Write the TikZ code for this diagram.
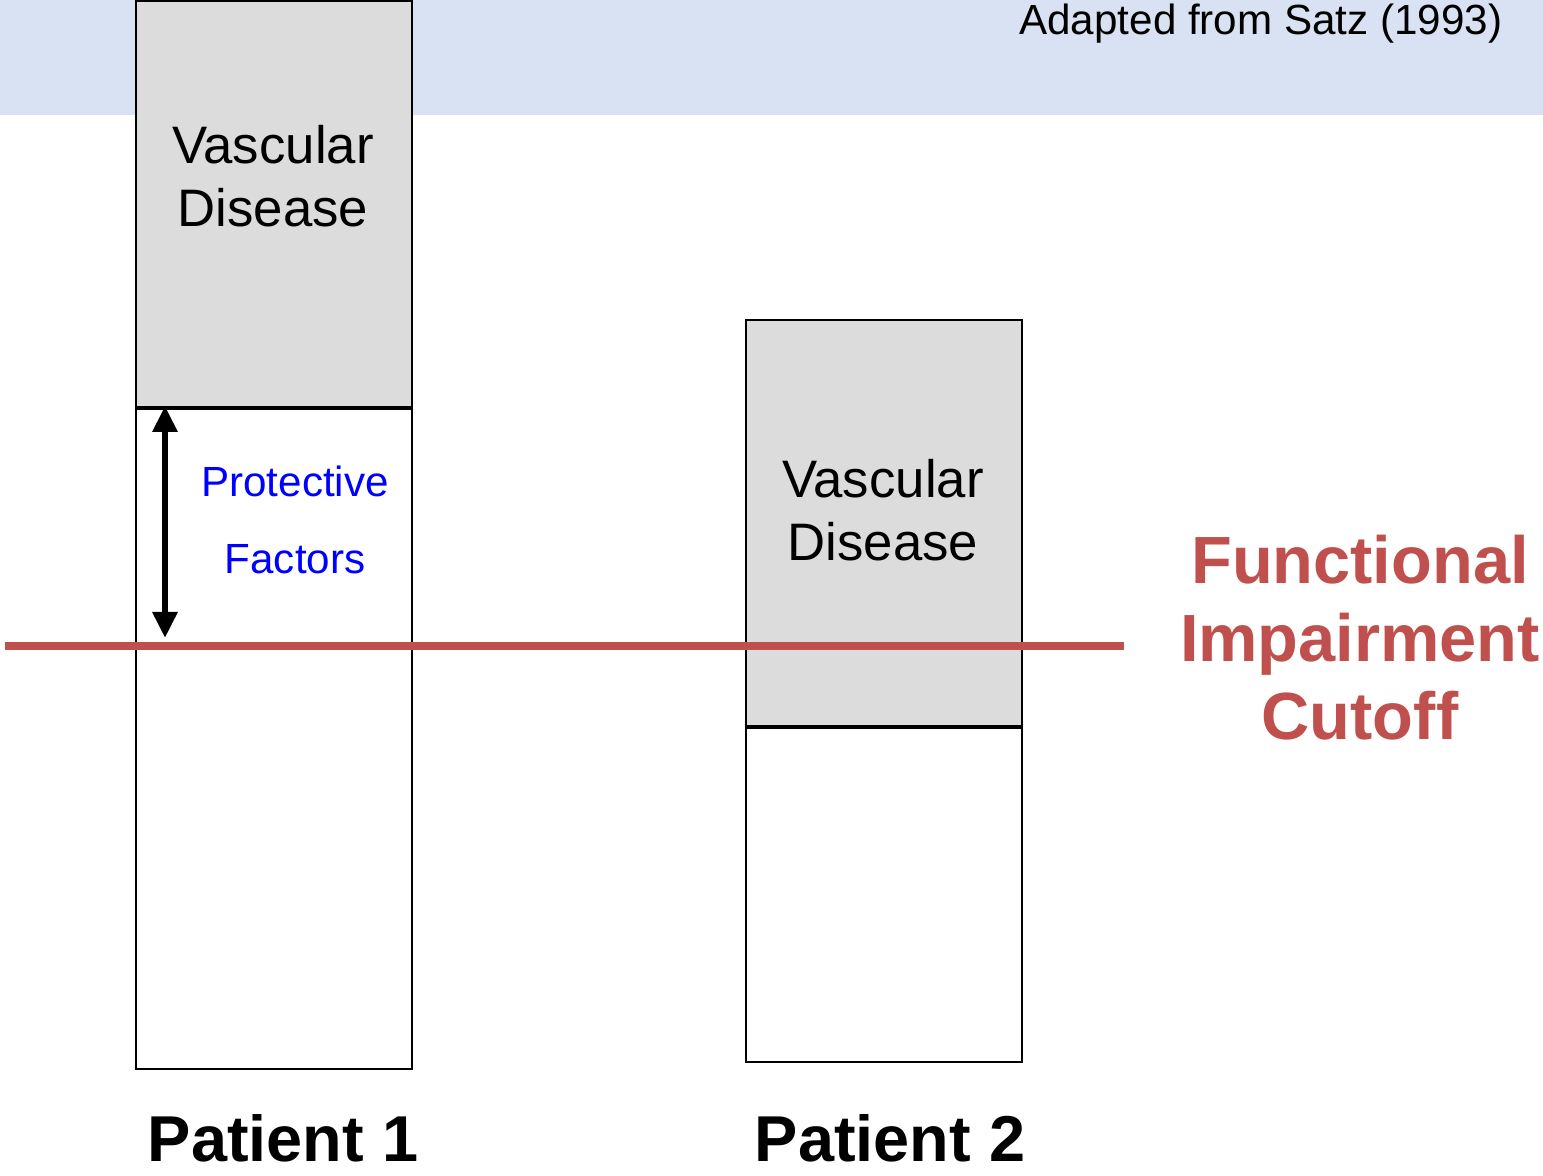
\documentclass[tikz,border=0pt]{standalone}
\usepackage{fontspec}
\setmainfont{Liberation Sans}
\usetikzlibrary{arrows.meta}

\definecolor{bandblue}{RGB}{217,226,242}
\definecolor{boxgray}{RGB}{220,220,220}
\definecolor{cutred}{RGB}{192,80,77}

\tikzset{
  barpart/.style={draw=black, line width=0.02cm, minimum width=2.76cm, inner sep=0pt, anchor=north west},
  vdtext/.style={align=center, font=\fontsize{15}{17.9}\selectfont},
  patient/.style={font=\fontsize{18.45}{20}\selectfont\bfseries},
}

\begin{document}
\begin{tikzpicture}
  \useasboundingbox (0, 0) rectangle (15.43, 11.76);

  % header band
  \fill[bandblue] (0, 10.61) rectangle (15.43, 11.76);
  \node[anchor=east, inner sep=0pt, font=\fontsize{12}{13}\selectfont] (source) at (15.03, 11.52) {Adapted from Satz (1993)};

  \begin{scope}
    \node[barpart, fill=boxgray, minimum height=4.06cm] (vd1) at (1.35, 11.76) {};
    \node[barpart, fill=white, minimum height=6.60cm] (rest1) at (vd1.south west) {};
    \node[vdtext] (vdlabel1) at (2.73, 10.00) {Vascular\\Disease};
    \node[patient] (p1) at (2.83, 0.38) {Patient 1};
  \end{scope}

  \begin{scope}
    \node[barpart, fill=boxgray, minimum height=4.06cm] (vd2) at (7.45, 8.57) {};
    \node[barpart, fill=white, minimum height=3.34cm] (rest2) at (vd2.south west) {};
    \node[vdtext] (vdlabel2) at (8.83, 6.66) {Vascular\\Disease};
    \node[patient] (p2) at (8.90, 0.38) {Patient 2};
  \end{scope}

  % cutoff
  \coordinate (cutL) at (0.05, 5.30);
  \coordinate (cutR) at (11.24, 5.30);
  \draw[cutred, line width=0.08cm] (cutL) -- (cutR);
  \node[align=center, text=cutred, font=\fontsize{19}{22.2}\selectfont\bfseries] (cutoff) at (13.60, 5.38)
    {Functional\\Impairment\\Cutoff};

  % protective factors
  \coordinate (pfTop) at (1.65, 7.70);
  \coordinate (pfBot) at (1.65, 5.38);
  \draw[{Triangle[width=0.24cm,length=0.26cm]}-{Triangle[width=0.24cm,length=0.26cm]}, line width=0.06cm] (pfTop) -- (pfBot);
  \node[align=center, text=blue, font=\fontsize{12}{21.9}\selectfont] (pf) at (2.95, 6.56) {Protective\\Factors};
\end{tikzpicture}
\end{document}
